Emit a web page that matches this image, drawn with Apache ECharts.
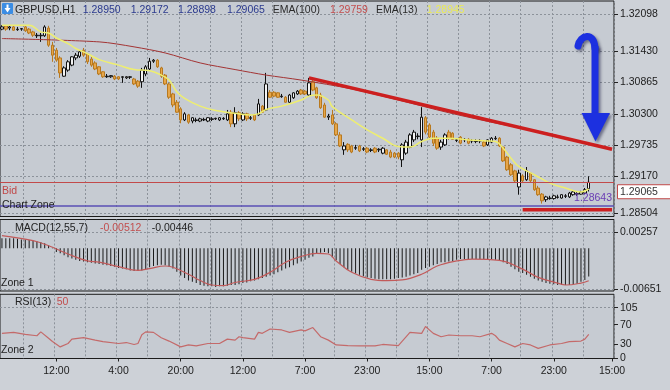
<!DOCTYPE html>
<html><head><meta charset="utf-8">
<script src="https://cdn.jsdelivr.net/npm/echarts@6/dist/echarts.min.js"></script>
<style>html,body{margin:0;padding:0;background:#cdd1d7;}#c{width:670px;height:390px;}</style>
</head><body><div id="c"></div>
<script>
// ---------- data ----------
const N_SLOTS = 158;
const timeLabels = ['12:00','4:00','20:00','12:00','7:00','23:00','15:00','7:00','23:00','15:00'];
const timeLabelIdx = [14,30,46,62,78,94,110,126,142,157];

const opens = [1.3183,1.3189,1.3185,1.3187,1.3182,1.3183,1.3187,1.3183,1.3178,1.3171,
1.3171,1.3171,1.3185,1.3154,1.3145,1.3131,1.3098,1.3109,1.3118,1.3131,
1.3134,1.3145,1.3138,1.3129,1.3122,1.3115,1.3106,1.3097,1.3097,1.3098,
1.3097,1.3096,1.3095,1.3096,1.3093,1.3089,1.3088,1.3102,1.3111,1.3125,
1.3127,1.3113,1.3100,1.3084,1.3066,1.3051,1.3039,1.3019,1.3028,1.3017,
1.3018,1.3017,1.3019,1.3017,1.3020,1.3021,1.3019,1.3021,1.3019,1.3033,
1.3012,1.3032,1.3019,1.3030,1.3022,1.3028,1.3028,1.3044,1.3037,1.3069,
1.3069,1.3068,1.3061,1.3060,1.3051,1.3059,1.3066,1.3073,1.3071,1.3064,
1.3088,1.3077,1.3064,1.3046,1.3024,1.3028,1.3012,1.2992,1.2965,1.2975,
1.2972,1.2968,1.2972,1.2966,1.2968,1.2964,1.2968,1.2965,1.2959,1.2965,
1.2961,1.2959,1.2959,1.2947,1.2959,1.2970,1.2983,1.2989,1.2983,1.3023,
1.3010,1.2997,1.2986,1.2970,1.2974,1.2997,1.2995,1.2982,1.2988,1.2983,
1.2984,1.2981,1.2980,1.2981,1.2979,1.2974,1.2979,1.2985,1.2986,1.2970,
1.2952,1.2938,1.2927,1.2898,1.2918,1.2911,1.2923,1.2911,1.2896,1.2885,
1.2875,1.2877,1.2877,1.2879,1.2878,1.2881,1.2880,1.2884,1.2885,1.2885,
1.2887,1.28950];
const closes = [1.3187,1.3183,1.3187,1.3181,1.3183,1.3184,1.3180,1.3176,1.3172,1.3172,
1.3172,1.3187,1.3154,1.3136,1.3127,1.3104,1.3113,1.3124,1.3133,1.3136,
1.3142,1.3136,1.3124,1.3118,1.3111,1.3102,1.3097,1.3098,1.3099,1.3093,
1.3093,1.3097,1.3097,1.3097,1.3084,1.3080,1.3109,1.3115,1.3125,1.3127,
1.3115,1.3098,1.3084,1.3060,1.3046,1.3033,1.3019,1.3030,1.3015,1.3023,
1.3019,1.3021,1.3020,1.3023,1.3021,1.3022,1.3023,1.3022,1.3030,1.3012,
1.3032,1.3021,1.3030,1.3021,1.3023,1.3019,1.3048,1.3033,1.3084,1.3060,
1.3062,1.3060,1.3062,1.3051,1.3064,1.3068,1.3071,1.3066,1.3066,1.3086,
1.3073,1.3059,1.3041,1.3024,1.3026,1.3012,1.2992,1.2972,1.2972,1.2965,
1.2961,1.2969,1.2963,1.2967,1.2961,1.2965,1.2961,1.2966,1.2968,1.2957,
1.2952,1.2952,1.2952,1.2974,1.2979,1.2992,1.2997,1.2990,1.3024,1.2997,
1.2988,1.2977,1.2968,1.2979,1.2992,1.2986,1.2984,1.2983,1.2977,1.2984,
1.2977,1.2982,1.2981,1.2982,1.2972,1.2983,1.2986,1.2986,1.2972,1.2945,
1.2929,1.2920,1.2909,1.2923,1.2909,1.2927,1.2909,1.2893,1.2884,1.2873,
1.2880,1.2878,1.2882,1.2880,1.2884,1.2882,1.2887,1.2889,1.2886,1.2889,
1.2893,1.29065];
const lows = [1.3181,1.3180,1.3181,1.3180,1.3180,1.3180,1.3178,1.3174,1.3169,1.3167,
1.3160,1.3169,1.3151,1.3124,1.3124,1.3095,1.3097,1.3106,1.3116,1.3127,
1.3131,1.3133,1.3120,1.3115,1.3109,1.3100,1.3095,1.3095,1.3095,1.3091,
1.3091,1.3086,1.3093,1.3093,1.3082,1.3077,1.3077,1.3098,1.3109,1.3122,
1.3113,1.3095,1.3082,1.3057,1.3042,1.3032,1.3013,1.3017,1.3012,1.3013,
1.3015,1.3015,1.3017,1.3015,1.3017,1.3019,1.3017,1.3019,1.3017,1.3006,
1.3006,1.3017,1.3017,1.3017,1.3019,1.3017,1.3026,1.3032,1.3035,1.3059,
1.3060,1.3059,1.3059,1.3050,1.3050,1.3057,1.3064,1.3064,1.3064,1.3062,
1.3071,1.3057,1.3039,1.3023,1.3019,1.3010,1.2990,1.2970,1.2956,1.2961,
1.2959,1.2965,1.2961,1.2963,1.2959,1.2961,1.2959,1.2961,1.2957,1.2956,
1.2950,1.2950,1.2948,1.2934,1.2956,1.2968,1.2979,1.2984,1.2970,1.2993,
1.2984,1.2972,1.2965,1.2965,1.2972,1.2983,1.2983,1.2979,1.2975,1.2979,
1.2975,1.2977,1.2977,1.2977,1.2970,1.2972,1.2977,1.2983,1.2970,1.2943,
1.2927,1.2918,1.2907,1.2884,1.2905,1.2909,1.2907,1.2891,1.2882,1.2868,
1.2871,1.2875,1.2875,1.2877,1.2877,1.2878,1.2878,1.2882,1.2882,1.2884,
1.2885,1.28898];
const highs = [1.3190,1.3190,1.3189,1.3189,1.3187,1.3185,1.3189,1.3185,1.3180,1.3176,
1.3176,1.3190,1.3189,1.3160,1.3149,1.3134,1.3116,1.3127,1.3134,1.3140,
1.3145,1.3149,1.3140,1.3133,1.3125,1.3116,1.3107,1.3102,1.3100,1.3100,
1.3098,1.3098,1.3098,1.3098,1.3095,1.3091,1.3113,1.3118,1.3131,1.3129,
1.3129,1.3115,1.3102,1.3086,1.3068,1.3055,1.3042,1.3033,1.3030,1.3024,
1.3023,1.3023,1.3023,1.3024,1.3024,1.3023,1.3024,1.3024,1.3037,1.3037,
1.3042,1.3035,1.3033,1.3032,1.3026,1.3030,1.3057,1.3046,1.3104,1.3073,
1.3071,1.3069,1.3066,1.3062,1.3066,1.3069,1.3073,1.3075,1.3073,1.3095,
1.3091,1.3079,1.3068,1.3050,1.3030,1.3037,1.3015,1.2997,1.2979,1.2977,
1.2974,1.2974,1.2974,1.2970,1.2970,1.2968,1.2970,1.2968,1.2970,1.2966,
1.2965,1.2961,1.2961,1.2977,1.2983,1.2995,1.3001,1.2995,1.3042,1.3026,
1.3013,1.3001,1.2990,1.2983,1.2995,1.3001,1.2997,1.2986,1.2990,1.2986,
1.2986,1.2984,1.2984,1.2984,1.2981,1.2984,1.2988,1.2990,1.2988,1.2972,
1.2954,1.2941,1.2929,1.2929,1.2921,1.2934,1.2925,1.2912,1.2900,1.2887,
1.2882,1.2882,1.2884,1.2884,1.2885,1.2885,1.2889,1.2891,1.2889,1.2891,
1.2896,1.29172];

const ema13Idx = [0,7,10,12,14,17,19,21,23,25,30,34,38,41,43,45,47,51,55,60,64,66,68,72,77,79,81,84,85,90,94,98,102,105,108,111,115,120,125,127,129,131,133,137,141,145,149,151];
const ema13Val = [1.3190,1.3190,1.3178,1.3176,1.3167,1.3157,1.3148,1.3142,1.3135,1.3128,1.3118,1.3110,1.3108,1.3100,1.3091,1.3070,1.3058,1.3044,1.3036,1.3031,1.3028,1.3030,1.3038,1.3044,1.3055,1.3062,1.3064,1.3055,1.3043,1.3019,1.3001,1.2986,1.2971,1.2970,1.2980,1.2986,1.2986,1.2983,1.2981,1.2980,1.2968,1.2950,1.2935,1.2920,1.2905,1.2896,1.2889,1.28945];
const ema100Idx = [0,25,34,42,51,60,68,77,90,102,115,128,141,151];
const ema100Val = [1.3166,1.3160,1.3151,1.3140,1.3122,1.3110,1.3100,1.3091,1.3075,1.3055,1.3032,1.3012,1.2994,1.29759];

const macdMain = [0.0016,0.0016,0.0016,0.0016,0.0015,0.0014,0.0014,0.0013,0.0012,0.0011,
0.0010,0.0008,0.0005,0.0001,-0.0006,-0.0008,-0.0011,-0.0014,-0.0016,-0.0018,
-0.0020,-0.0021,-0.0022,-0.0023,-0.0024,-0.0025,-0.0026,-0.0027,-0.0028,-0.0029,
-0.0031,-0.0032,-0.0033,-0.0035,-0.0036,-0.0036,-0.0035,-0.0033,-0.0030,-0.0028,
-0.0027,-0.0026,-0.0027,-0.0029,-0.0032,-0.0037,-0.0043,-0.0047,-0.0051,-0.0053,
-0.0055,-0.0058,-0.0059,-0.0060,-0.0060,-0.0061,-0.0060,-0.0060,-0.0059,-0.0058,
-0.0058,-0.0057,-0.0055,-0.0054,-0.0052,-0.0051,-0.0049,-0.0047,-0.0045,-0.0043,
-0.0041,-0.0038,-0.0035,-0.0032,-0.0030,-0.0027,-0.0024,-0.0021,-0.0018,-0.0015,
-0.0013,-0.0008,-0.0007,-0.0006,-0.0008,-0.0014,-0.0019,-0.0025,-0.0030,-0.0034,
-0.0037,-0.0040,-0.0042,-0.0044,-0.0046,-0.0047,-0.0048,-0.0049,-0.0049,-0.0049,
-0.0049,-0.0048,-0.0047,-0.0046,-0.0045,-0.0043,-0.0041,-0.0039,-0.0034,-0.0031,
-0.0029,-0.0027,-0.0025,-0.0022,-0.0022,-0.0021,-0.0020,-0.0018,-0.0017,-0.0017,
-0.0017,-0.0017,-0.0017,-0.0017,-0.0017,-0.0017,-0.0017,-0.0018,-0.0019,-0.0022,
-0.0025,-0.0029,-0.0033,-0.0037,-0.0039,-0.0042,-0.0045,-0.0048,-0.0051,-0.0053,
-0.0055,-0.0056,-0.0057,-0.0058,-0.0058,-0.0058,-0.0058,-0.0057,-0.0056,-0.0053,
-0.0050,-0.00446];
const macdSigIdx = [0,8,12,17,22,25,30,35,38,42,44,48,51,54,57,60,65,69,73,77,81,84,86,90,95,99,103,108,112,117,121,128,134,138,143,145,149,151];
const macdSigVal = [0.0020,0.0012,0.0004,-0.0009,-0.0020,-0.0022,-0.0029,-0.0035,-0.0032,-0.0028,-0.0030,-0.0041,-0.0051,-0.0058,-0.0059,-0.0054,-0.0049,-0.0038,-0.0022,-0.0013,-0.0008,-0.0009,-0.0020,-0.0038,-0.0049,-0.0051,-0.0050,-0.0041,-0.0028,-0.0020,-0.0017,-0.0019,-0.0033,-0.0046,-0.0055,-0.0058,-0.0055,-0.00512];

const rsiIdx = [0,3,6,9,10,12,13,15,17,18,21,24,26,30,32,34,35,36,37,39,41,43,46,48,50,53,56,58,60,61,62,65,66,67,69,72,74,77,78,80,82,84,86,89,92,96,98,102,105,108,109,111,113,115,118,121,123,126,127,128,130,132,134,136,138,141,144,146,149,150,151];
const rsiVal = [52,54,50,47,55,42,35,24,31,40,43,38,35,31,33,29,31,49,55,54,43,36,24,28,26,31,31,40,38,45,43,40,54,52,61,59,54,59,57,64,45,38,28,26.5,26,26,29,26.5,54,52,66,52,45,48.6,47,47,45,52,47,38,31,24,31,28,21,28,31,35,36,40,50];

const priceTicks = [1.32098,1.31430,1.30865,1.30300,1.29735,1.29170,1.28504];
const macdTicks = [0.00257,-0.00651];
const rsiTicks = [0,30,70,105];

const trendIdx = [79,157];
const trendVal = [1.3095,1.2966];
const supportIdx = [134,157];
const supportVal = [1.2857,1.2857];
const zonePrice = 1.28643;

// ---------- build ----------
const FONT = 'Liberation Sans';
const FS = 10.5;
const last = closes.length - 1;
const bidPrice = closes[last];
const categories = Array.from({length: N_SLOTS}, (_, i) => 'b' + i);
const candleData = opens.map((o, i) => [o, closes[i], lows[i], highs[i]]);
const pairs = (ix, vs) => ix.map((x, k) => [x, vs[k]]);
const gridLineFn = (i) => i >= 6 && (i - 6) % 8 === 0;
const labelFn = (i) => timeLabelIdx.indexOf(i) >= 0;
const dashed = {color: '#8c929a', type: [2, 2], width: 1};

function xAx(gi, showLabels) {
  return {
    type: 'category', gridIndex: gi, data: categories, boundaryGap: true,
    axisLine: {show: false},
    axisTick: {show: showLabels, interval: labelFn, alignWithLabel: true, length: 3, lineStyle: {color: '#222'}},
    axisLabel: {show: showLabels, interval: labelFn, margin: 7, color: '#1c1c1c', fontSize: FS, fontFamily: FONT,
      formatter: (v, i) => timeLabels[timeLabelIdx.indexOf(i)] || ''},
    splitLine: {show: true, interval: gridLineFn, lineStyle: dashed}
  };
}
function yAx(gi, min, max, ticks, fmt, showSplit) {
  return {
    type: 'value', gridIndex: gi, position: 'right', min: min, max: max, scale: true,
    axisLine: {show: false},
    axisTick: {show: true, length: 4, customValues: ticks, lineStyle: {color: '#222'}},
    axisLabel: {show: true, customValues: ticks, formatter: fmt, margin: 6, color: '#1c1c1c', fontSize: FS, fontFamily: FONT},
    splitLine: {show: showSplit, lineStyle: dashed}
  };
}
const gridBase = {left: -1, right: 56, show: true, borderColor: '#1b1b1b', borderWidth: 1, backgroundColor: '#c6cbd2'};

const txt = (x, y, text, fill, align) => ({type: 'text', x: x, y: y, silent: true, z: 50,
  style: {text: text, fill: fill, font: FS + 'px "' + FONT + '"', verticalAlign: 'middle', align: align || 'left'}});
const BLUE = '#1c30e0';
const arrowShadow = {shadowBlur: 3, shadowColor: 'rgba(0,0,40,0.45)', shadowOffsetX: 2, shadowOffsetY: 2};

const option = {
  animation: false,
  backgroundColor: '#cdd1d7',
  grid: [
    Object.assign({top: 1, height: 215.5}, gridBase),
    Object.assign({top: 219.5, height: 71.5}, gridBase),
    Object.assign({top: 294.3, height: 64.2}, gridBase)
  ],
  xAxis: [xAx(0, false), xAx(1, false), xAx(2, true)],
  yAxis: [
    yAx(0, 1.284462, 1.323382, priceTicks, v => v.toFixed(5), true),
    yAx(1, -0.006747, 0.004544, macdTicks, v => v.toFixed(5), true),
    yAx(2, 0, 132.7, rsiTicks, v => String(v), false)
  ],
  series: [
    {type: 'candlestick', xAxisIndex: 0, yAxisIndex: 0, data: candleData, barWidth: 3,
      itemStyle: {color: '#f3f3f3', color0: '#e6a64a', borderColor: '#111111', borderColor0: '#b8791f', borderWidth: 1},
      markLine: {silent: true, symbol: ['none', 'none'], animation: false, precision: 6, label: {show: false},
        data: [
          {yAxis: bidPrice, lineStyle: {color: '#c24a4a', width: 1, type: 'solid'}}
        ]}},
    {type: 'line', xAxisIndex: 0, yAxisIndex: 0, data: pairs(ema100Idx, ema100Val), smooth: 0.3, symbol: 'none',
      lineStyle: {color: '#a33434', width: 1},
      markLine: {silent: true, symbol: ['none', 'none'], animation: false, precision: 6, label: {show: false},
        data: [
          {yAxis: zonePrice, lineStyle: {color: '#5a4fb4', width: 1.5, type: 'solid'}}
        ]}},
    {type: 'line', xAxisIndex: 0, yAxisIndex: 0, data: pairs(ema13Idx, ema13Val), smooth: 0.4, symbol: 'none',
      lineStyle: {color: '#eeee70', width: 1.5}},
    {type: 'line', xAxisIndex: 0, yAxisIndex: 0, data: pairs(supportIdx, supportVal), symbol: 'none',
      lineStyle: {color: '#cc1f1f', width: 3.5}},
    {type: 'line', xAxisIndex: 0, yAxisIndex: 0, data: pairs(trendIdx, trendVal), symbol: 'none',
      lineStyle: {color: '#cc1f1f', width: 3.5}},
    {type: 'bar', xAxisIndex: 1, yAxisIndex: 1, data: macdMain, barWidth: 1,
      itemStyle: {color: '#1a1a1a'}},
    {type: 'line', xAxisIndex: 1, yAxisIndex: 1, data: pairs(macdSigIdx, macdSigVal), smooth: 0.4, symbol: 'none',
      lineStyle: {color: '#c25a5a', width: 1.2}},
    {type: 'line', xAxisIndex: 2, yAxisIndex: 2, data: pairs(rsiIdx, rsiVal), symbol: 'none',
      lineStyle: {color: '#c46a6a', width: 1.2},
      markLine: {silent: true, symbol: ['none', 'none'], label: {show: false},
        data: [{yAxis: 105, lineStyle: dashed}]}}
  ]
};
const chart = echarts.init(document.getElementById('c'), null, {renderer: 'canvas', width: 670, height: 390});
chart.setOption(option);

const yBid = chart.convertToPixel({yAxisIndex: 0}, bidPrice);
const yZone = chart.convertToPixel({yAxisIndex: 0}, zonePrice);

chart.setOption({
  graphic: [
    {type: 'rect', shape: {x: 2, y: 3, width: 11, height: 11, r: 1}, style: {fill: '#3b8de4'}, silent: true},
    {type: 'polygon', shape: {points: [[4.5, 8], [10.5, 8], [7.5, 12.5]]}, style: {fill: '#ffffff'}, silent: true},
    {type: 'rect', shape: {x: 6.5, y: 4.5, width: 2, height: 4}, style: {fill: '#ffffff'}, silent: true},
    txt(15, 10, 'GBPUSD,H1', '#222'),
    txt(82.7, 10, opens[last].toFixed(5), '#2b3a8e'),
    txt(130.7, 10, highs[last].toFixed(5), '#2b3a8e'),
    txt(178, 10, lows[last].toFixed(5), '#2b3a8e'),
    txt(227, 10, closes[last].toFixed(5), '#2b3a8e'),
    txt(272.7, 10, 'EMA(100)', '#2a2a2a'),
    txt(330, 10, ema100Val[ema100Val.length - 1].toFixed(5), '#c24e4e'),
    txt(376, 10, 'EMA(13)', '#2a2a2a'),
    txt(426.7, 10, ema13Val[ema13Val.length - 1].toFixed(5), '#eaea55'),
    txt(2, yBid + 8.5, 'Bid', '#c04848'),
    {type: 'rect', silent: true, z: 50, shape: {x: 617.5, y: yBid + 2.5, width: 54, height: 14},
      style: {fill: '#ffffff', stroke: '#c04848', lineWidth: 1}},
    txt(620, yBid + 9.7, bidPrice.toFixed(5), '#333'),
    txt(2, yZone - 0.5, 'Chart Zone', '#1e1e1e'),
    txt(612, yZone - 7, zonePrice.toFixed(5), '#6a3db4', 'right'),
    txt(15, 228.3, 'MACD(12,55,7)', '#222'),
    txt(100, 228.3, macdSigVal[macdSigVal.length - 1].toFixed(5), '#c24e4e'),
    txt(151.7, 228.3, macdMain[last].toFixed(5), '#222'),
    txt(1, 282.7, 'Zone 1', '#222'),
    txt(15, 302, 'RSI(13)', '#222'),
    txt(56.7, 302, String(rsiVal[rsiVal.length - 1]), '#c24e4e'),
    txt(1, 350, 'Zone 2', '#222'),
    {type: 'bezierCurve', silent: true, z: 60,
      shape: {x1: 578, y1: 46, cpx1: 580, cpy1: 35, cpx2: 594, cpy2: 31, x2: 595, y2: 48},
      style: Object.assign({stroke: BLUE, lineWidth: 7, fill: null, lineCap: 'round'}, arrowShadow)},
    {type: 'line', silent: true, z: 60, shape: {x1: 595, y1: 46, x2: 595, y2: 115},
      style: Object.assign({stroke: BLUE, lineWidth: 7}, arrowShadow)},
    {type: 'polygon', silent: true, z: 60, shape: {points: [[581.5, 113], [610, 113], [595.5, 141.5]]},
      style: Object.assign({fill: BLUE}, arrowShadow)}
  ]
});
</script>
</body></html>
